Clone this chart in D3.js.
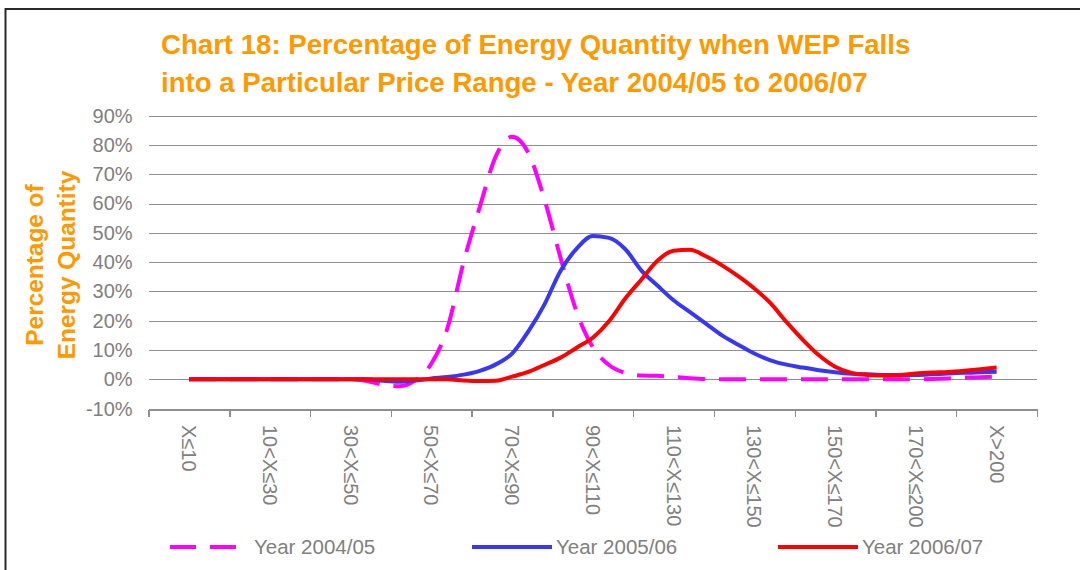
<!DOCTYPE html>
<html>
  <head>
    <meta http-equiv="Content-Type" content="text/html;charset=utf-8"/>
    <style type="text/css">

body {
  margin: 0;
  background: #fff;
}

svg {
  font-family: "Liberation Sans", Arial, sans-serif;
  display: block;
}

.title {
  fill: #ff9900;
  font-weight: bold;
  font-size: 27.6px;
}

.ytitle {
  fill: #ff9900;
  font-weight: bold;
  font-size: 24.4px;
}

.grid line {
  stroke: #8e8e8e;
  stroke-width: 1.4px;
  shape-rendering: crispEdges;
}

.axis path, .axis line {
  fill: none;
  stroke: #8e8e8e;
  stroke-width: 1.4px;
  shape-rendering: crispEdges;
}

.axis text, .legend text {
  fill: #808080;
  font-size: 20px;
}

.series path {
  fill: none;
  stroke-width: 4px;
  stroke-linejoin: round;
}

    </style>
  </head>
  <body>
    <svg></svg>

    <script type="text/javascript" src="https://cdn.jsdelivr.net/npm/d3@7"></script>

    <script type="text/javascript">

// price range labels (one every 5 data points)
var categories = ["X\u226410", "10<X\u226430", "30<X\u226450", "50<X\u226470", "70<X\u226490",
                  "90<X\u2264110", "110<X\u2264130", "130<X\u2264150", "150<X\u2264170",
                  "170<X\u2264200", "X>200"];

var yTicks = [-10, 0, 10, 20, 30, 40, 50, 60, 70, 80, 90];

// percentage of energy quantity
var year0405 = [0, 0, 0, 0, 0, 0, 0, 0, 0, 0,
                0, -0.6, -1.8, -2.4, -0.4, 5.3, 17.5, 40, 58.8, 76.2,
                82.8, 77.4, 61.5, 41.5, 23, 11, 4.9, 2.2, 1.3, 1.2,
                0.8, 0.4, 0.1, 0, 0, 0, 0, 0, 0, 0,
                0, 0, 0, 0, 0, 0, 0.1, 0.3, 0.6, 0.7,
                0.9];

var year0506 = [0, 0, 0, 0, 0, 0, 0, 0, 0, 0,
                0, 0, -0.5, -0.8, -0.4, 0.3, 0.8, 1.6, 2.9, 5.1,
                8.8, 16.3, 25.5, 37, 44.6, 48.9, 48.3, 44.5, 37.2, 32,
                27, 23, 19, 15, 11.8, 8.8, 6.5, 5, 4, 3.1,
                2.4, 1.9, 1.7, 1.5, 1.5, 1.5, 1.7, 2, 2.2, 2.4,
                2.6];

var year0607 = [0, 0, 0, 0, 0, 0, 0, 0, 0, 0,
                0, 0, 0, 0, 0, 0, 0, -0.4, -0.6, -0.5,
                0.9, 2.5, 4.9, 7.4, 10.8, 14.2, 19.8, 27.5, 34, 40.5,
                43.9, 44.2, 42, 38.9, 35.2, 31, 26, 19.5, 13.5, 8.2,
                4.3, 2.2, 1.5, 1.3, 1.5, 2, 2.3, 2.5, 2.9, 3.4,
                4];

var seriesNames = ["Year 2004/05", "Year 2005/06", "Year 2006/07"];
var seriesColors = ["#ff00ff", "#3838f4", "#ff0000"];
var seriesDash = ["27,14", null, null];

var W = 1080, H = 570;
var perLabel = 5;

var svg = d3.select("svg")
    .attr("width", W)
    .attr("height", H);

svg.append("rect")
    .attr("width", W)
    .attr("height", H)
    .attr("fill", "#fff");

// frame (cut off at right and bottom)
svg.append("path")
    .attr("d", "M5.5,570 V9 H1080")
    .attr("fill", "none")
    .attr("stroke", "#2a2a2a")
    .attr("stroke-width", 2);

var n = year0405.length;

var x = d3.scaleLinear()
    .domain([-perLabel / 2, (n - 1) + perLabel / 2])
    .range([148.6, 1037]);

var y = d3.scaleLinear()
    .domain([-10, 90])
    .range([408.6, 115.7]);

// title
var title = svg.append("text")
    .attr("class", "title")
    .attr("x", 161);
title.append("tspan").attr("x", 161).attr("y", 54)
    .text("Chart 18: Percentage of Energy Quantity when WEP Falls");
title.append("tspan").attr("x", 161).attr("y", 92)
    .text("into a Particular Price Range - Year 2004/05 to 2006/07");

// y axis title
var yt = svg.append("text")
    .attr("class", "ytitle")
    .attr("text-anchor", "middle")
    .attr("transform", "translate(0,265) rotate(-90)");
yt.append("tspan").attr("x", 0).attr("y", 43).text("Percentage of");
yt.append("tspan").attr("x", 0).attr("y", 75).text("Energy Quantity");

// gridlines
svg.append("g")
    .attr("class", "grid")
  .selectAll("line")
    .data(yTicks.filter(d => d > -10))
  .enter().append("line")
    .attr("x1", x.range()[0])
    .attr("x2", x.range()[1])
    .attr("y1", d => Math.round(y(d)) + 0.5)
    .attr("y2", d => Math.round(y(d)) + 0.5);

// y axis labels
var yAxis = svg.append("g")
    .attr("class", "axis")
    .attr("transform", "translate(" + x.range()[0] + ",0)")
    .call(d3.axisLeft(y).tickValues(yTicks).tickSize(0).tickPadding(16)
          .tickFormat(d => d + "%"));
yAxis.select(".domain").remove();

// x axis with tick marks between categories
var tickPos = d3.range(categories.length + 1).map(i => -perLabel / 2 + i * perLabel);
var xAxis = svg.append("g")
    .attr("class", "axis")
    .attr("transform", "translate(0," + (Math.round(y(-10)) + 0.5) + ")")
    .call(d3.axisBottom(x).tickValues(tickPos).tickSize(7).tickSizeOuter(0).tickFormat(""));

var labelPos = categories.map((c, i) => i * perLabel);
svg.append("g")
    .attr("class", "axis")
  .selectAll("text")
    .data(categories)
  .enter().append("text")
    .attr("transform", (d, i) => "translate(" + x(labelPos[i]) + ",425) rotate(90)")
    .attr("dy", "0.35em")
    .text(d => d);

// lines
var line = d3.line()
    .x((d, i) => x(i))
    .y(d => y(d))
    .curve(d3.curveMonotoneX);

var allSeries = [year0405, year0506, year0607];

svg.append("g")
    .attr("class", "series")
  .selectAll("path")
    .data(allSeries)
  .enter().append("path")
    .attr("d", d => line(d))
    .attr("stroke", (d, i) => seriesColors[i])
    .attr("stroke-dasharray", (d, i) => seriesDash[i]);

// legend
var legendX = [170, 472, 778];
var legend = svg.append("g")
    .attr("class", "legend")
  .selectAll("g")
    .data(seriesNames)
  .enter().append("g")
    .attr("transform", (d, i) => "translate(" + legendX[i] + ",547)");

legend.append("line")
    .attr("x1", 0)
    .attr("x2", 80)
    .attr("stroke", (d, i) => seriesColors[i])
    .attr("stroke-width", 4)
    .attr("stroke-dasharray", (d, i) => seriesDash[i] ? "26,14" : null);

legend.append("text")
    .attr("x", 84)
    .attr("dy", "0.35em")
    .style("font-size", "20.5px")
    .text(d => d);

    </script>
  </body>
</html>
